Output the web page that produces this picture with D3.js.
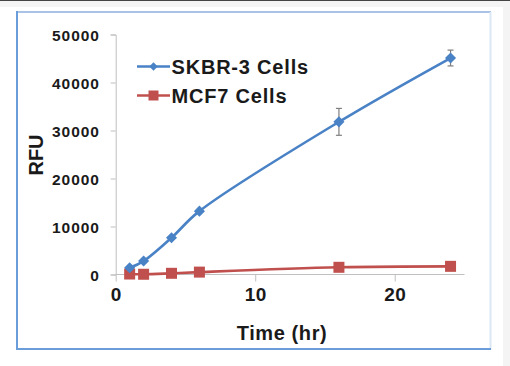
<!DOCTYPE html>
<html lang="en">
<head>
<meta charset="UTF-8">
<title>RFU over time</title>
<script src="https://cdn.jsdelivr.net/npm/d3@7/dist/d3.min.js"></script>
<style>
    html, body { margin: 0; padding: 0; background: #fff; }
    svg { display: block; font-family: Arial, "Liberation Sans", sans-serif; }
</style>
</head>
<body>
<div id="chart"></div>
<script>
// values
var hours = [1, 2, 4, 6, 16, 24];
var skbr3 = [1400, 2800, 7650, 13200, 31800, 45100];
var skbr3Err = [0, 0, 0, 0, 2800, 1650];
var mcf7 = [100, 50, 250, 500, 1500, 1700];
var seriesNames = ["SKBR-3 Cells", "MCF7 Cells"];
var xTicks = [0, 10, 20];
var yTicks = [0, 10000, 20000, 30000, 40000, 50000];

var W = 510, H = 366;
var svg = d3.select("#chart").append("svg")
        .attr("width", W)
        .attr("height", H);

// page surroundings
svg.append("rect").attr("x", 0).attr("y", 0).attr("width", W).attr("height", 7).style("fill", "#f4f4f4");
svg.append("rect").attr("x", 503).attr("y", 0).attr("width", 7).attr("height", H).style("fill", "#f4f4f4");
svg.append("rect").attr("x", 0).attr("y", 0).attr("width", W).attr("height", 1).style("fill", "#444");

// frame
svg.append("line").attr("x1", 17).attr("x2", 491).attr("y1", 12).attr("y2", 12)
        .attr("stroke", "#a8c3e6").attr("stroke-width", 2);
svg.append("line").attr("x1", 490.5).attr("x2", 490.5).attr("y1", 12).attr("y2", 350)
        .attr("stroke", "#dbe7f4").attr("stroke-width", 2);
svg.append("line").attr("x1", 17).attr("x2", 17).attr("y1", 11).attr("y2", 350)
        .attr("stroke", "#6c9ddb").attr("stroke-width", 2);
svg.append("line").attr("x1", 16).attr("x2", 491).attr("y1", 349).attr("y2", 349)
        .attr("stroke", "#6c9ddb").attr("stroke-width", 2);

var x = d3.scaleLinear().domain([0, 25]).range([115.7, 464.5]);
var y = d3.scaleLinear().domain([0, 50000]).range([274.5, 34.5]);

// y axis
var yAxis = svg.append("g")
        .attr("transform", "translate(" + x(0) + ",0)")
        .call(d3.axisLeft(y).tickValues(yTicks).tickSize(5).tickPadding(11).tickFormat(d3.format("d")));
yAxis.select(".domain").attr("stroke", "#bfbfbf");
yAxis.selectAll(".tick line").attr("stroke", "#bfbfbf");
yAxis.selectAll("text")
        .style("font-size", "15.5px").style("font-weight", "bold").style("fill", "#1a1a1a")
        .style("letter-spacing", "0.9px")
        .attr("dy", "0.36em");

// x axis
var xAxis = svg.append("g")
        .attr("transform", "translate(0," + y(0) + ")")
        .call(d3.axisBottom(x).tickValues(xTicks).tickSize(7).tickPadding(6));
xAxis.select(".domain").attr("stroke", "#bfbfbf").attr("d", "M" + x(0) + ",0H" + x(25));
xAxis.selectAll(".tick line").attr("stroke", "#bfbfbf");
xAxis.selectAll("text")
        .style("font-size", "19px").style("font-weight", "bold").style("fill", "#1a1a1a")
        .style("letter-spacing", "0.5px");

// axis titles
svg.append("text")
        .attr("x", 282).attr("y", 340)
        .attr("text-anchor", "middle")
        .style("font-size", "20px").style("font-weight", "bold").style("fill", "#1a1a1a")
        .style("letter-spacing", "0.6px")
        .text("Time (hr)");
svg.append("text")
        .attr("transform", "translate(42.5,155) rotate(-90)")
        .attr("text-anchor", "middle")
        .style("font-size", "20px").style("font-weight", "bold").style("fill", "#1a1a1a")
        .text("RFU");

var line = d3.line()
        .x(function (d) { return x(d[0]); })
        .y(function (d) { return y(d[1]); })
        .curve(d3.curveCatmullRom.alpha(0.5));

var blue = "#4a82c6", red = "#c0504d";
var bluePts = hours.map(function (h, i) { return [h, skbr3[i]]; });
var redPts = hours.map(function (h, i) { return [h, mcf7[i]]; });

// red series (drawn under the blue one)
svg.append("path").datum(redPts).attr("d", line)
        .attr("fill", "none").attr("stroke", red).attr("stroke-width", 2.6);
svg.selectAll(".sq").data(redPts).enter().append("rect")
        .attr("class", "sq")
        .attr("x", function (d) { return x(d[0]) - 5.5; })
        .attr("y", function (d) { return y(d[1]) - 5.5; })
        .attr("width", 11).attr("height", 11)
        .style("fill", red);

// blue series
svg.append("path").datum(bluePts).attr("d", line)
        .attr("fill", "none").attr("stroke", blue).attr("stroke-width", 2.6);

// error bars
hours.forEach(function (h, i) {
    if (!skbr3Err[i]) return;
    var cx = x(h), t = y(skbr3[i] + skbr3Err[i]), b = y(skbr3[i] - skbr3Err[i]);
    var g = svg.append("g").attr("stroke", "#7f7f7f").attr("stroke-width", 1.2);
    g.append("line").attr("x1", cx).attr("x2", cx).attr("y1", t).attr("y2", b);
    g.append("line").attr("x1", cx - 3).attr("x2", cx + 3).attr("y1", t).attr("y2", t);
    g.append("line").attr("x1", cx - 3).attr("x2", cx + 3).attr("y1", b).attr("y2", b);
});

var diamond = d3.symbol().type(d3.symbolDiamond2).size(78);
svg.selectAll(".dm").data(bluePts).enter().append("path")
        .attr("class", "dm")
        .attr("transform", function (d) { return "translate(" + x(d[0]) + "," + y(d[1]) + ")"; })
        .attr("d", diamond)
        .style("fill", blue);

// legend
var legend = svg.append("g");
[[blue, 66.5], [red, 95.5]].forEach(function (c, i) {
    legend.append("line").attr("x1", 137).attr("x2", 170).attr("y1", c[1]).attr("y2", c[1])
            .attr("stroke", c[0]).attr("stroke-width", 2.6);
    if (i === 0) {
        legend.append("path").attr("transform", "translate(153.5," + c[1] + ")")
                .attr("d", d3.symbol().type(d3.symbolDiamond2).size(45)).style("fill", c[0]);
    } else {
        legend.append("rect").attr("x", 148.5).attr("y", c[1] - 5).attr("width", 10).attr("height", 10)
                .style("fill", c[0]);
    }
    legend.append("text").attr("x", 171.5).attr("y", c[1] + 7.2)
            .style("font-size", "20px").style("font-weight", "bold").style("fill", "#1a1a1a")
            .style("letter-spacing", "0.8px")
            .text(seriesNames[i]);
});
</script>
</body>
</html>
